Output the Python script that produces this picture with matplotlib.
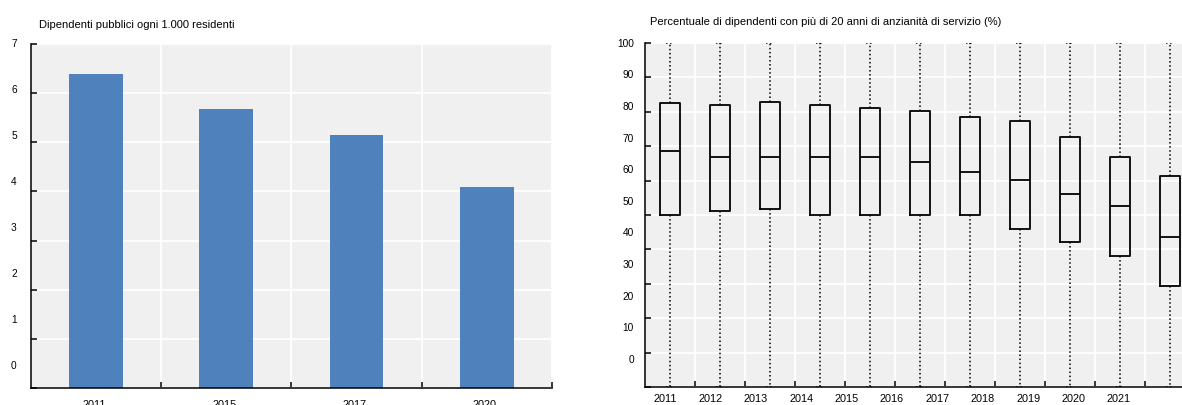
import matplotlib
matplotlib.use("Agg")
import matplotlib.pyplot as plt
import numpy as np

plt.rcParams['font.family'] = ['Liberation Sans Narrow', 'Liberation Sans', 'DejaVu Sans']

# ---- data -------------------------------------------------------------
bar_years = ['2011', '2015', '2017', '2020']
employees_per_1000 = [6.39, 5.67, 5.15, 4.08]
left_ytick_labels = ['7', '6', '5', '4', '3', '2', '1', '0']

box_years = ['2011', '2012', '2013', '2014', '2015', '2016',
             '2017', '2018', '2019', '2020', '2021']
box_q1 = [49.9, 51.2, 51.7, 49.9, 49.9, 50.0, 50.0, 46.0, 42.1, 38.1, 29.5]
box_med = [68.7, 66.9, 66.9, 66.9, 66.9, 65.5, 62.5, 60.2, 56.1, 52.6, 43.5]
box_q3 = [82.5, 82.0, 82.9, 82.0, 81.2, 80.3, 78.6, 77.3, 72.6, 66.9, 61.3]
box_min = [0] * 11
box_max = [100] * 11
right_ytick_labels = ['100', '90', '80', '70', '60', '50', '40', '30', '20', '10', '0']

title_left = 'Dipendenti pubblici ogni 1.000 residenti'
title_right = ('Percentuale di dipendenti con più di 20 anni di anzianità '
               'di servizio (%)')

# ---- layout -----------------------------------------------------------
W, H = 1182, 406
fig = plt.figure(figsize=(W / 100, H / 100), dpi=100)
fig.patch.set_facecolor('white')


def px_box(x0, x1, ytop, ybot):
    return [x0 / W, (H - ybot) / H, (x1 - x0) / W, (ybot - ytop) / H]


ax1 = fig.add_axes(px_box(30.7, 552, 45, 389))
ax2 = fig.add_axes(px_box(645, 1195, 44, 388))

BG = '#F0F0F0'
GRID = 'white'
BAR = '#4F81BD'
TICK_FS = 7.3
XT_FS = 7.8
TITLE_FS = 8.05


def style_axes(ax):
    ax.set_facecolor(BG)
    for s in ('top', 'right'):
        ax.spines[s].set_visible(False)
    for s in ('left', 'bottom'):
        ax.spines[s].set_linewidth(1.1)
        ax.spines[s].set_color('black')
    ax.set_axisbelow(True)
    ax.grid(True, which='major', axis='y', color=GRID, lw=1.3)
    ax.grid(True, which='minor', axis='x', color=GRID, lw=1.3)
    ax.tick_params(axis='y', which='major', direction='in', length=4,
                   width=1.1, labelleft=False)
    ax.tick_params(axis='x', which='major', bottom=False, labelbottom=False)
    ax.tick_params(axis='x', which='minor', direction='in', length=4,
                   width=1.1)


# ---- left panel: bars ---------------------------------------------------
x1 = np.arange(len(bar_years))
ax1.bar(x1, employees_per_1000, width=0.41, color=BAR, zorder=2)
ax1.set_xlim(-0.5, len(bar_years) - 0.5)
ax1.set_ylim(0, 7)
ax1.set_yticks(np.arange(0, 8))
ax1.set_xticks(x1)
ax1.set_xticks(np.arange(0.5, len(bar_years) + 0.5, 1.0), minor=True)
style_axes(ax1)

ax1_w = 552 - 30.7
for lab, yf in zip(left_ytick_labels, np.linspace(0.9945, 0.0593, len(left_ytick_labels))):
    ax1.text(-14 / ax1_w, yf, lab, transform=ax1.transAxes, ha='right',
             va='baseline', fontsize=TICK_FS, clip_on=False)
for xi, lab in zip(x1, bar_years):
    ax1.text(xi - 0.015, -0.055, lab, transform=ax1.get_xaxis_transform(),
             ha='center', va='baseline', fontsize=XT_FS, clip_on=False)

fig.text(39 / W, 1 - 28.3 / H, title_left, fontsize=TITLE_FS,
         ha='left', va='baseline')

# ---- right panel: box plots ----------------------------------------------
stats = [dict(label=y, whislo=lo, q1=a, med=m, q3=b, whishi=hi)
         for y, lo, a, m, b, hi in zip(box_years, box_min, box_q1, box_med,
                                       box_q3, box_max)]
x2 = np.arange(len(box_years))
ax2.bxp(stats, positions=x2, widths=0.4, showfliers=False, capwidths=0.16,
        boxprops=dict(color='black', lw=1.3),
        medianprops=dict(color='black', lw=1.3),
        whiskerprops=dict(color='black', lw=1.1, ls=':'),
        capprops=dict(color='black', lw=1.1, ls=':'),
        manage_ticks=False, zorder=3)
for art in ax2.lines:
    art.set_clip_on(True)
ax2.set_xlim(-0.5, len(box_years) - 0.5)
ax2.set_ylim(0, 100)
ax2.set_yticks(np.arange(0, 101, 10))
ax2.set_xticks(x2)
ax2.set_xticks(np.arange(0.5, len(box_years) + 0.5, 1.0), minor=True)
style_axes(ax2)

ax2_w = 1195 - 645
for lab, yf in zip(right_ytick_labels, np.linspace(0.992, 0.0733, len(right_ytick_labels))):
    ax2.text(-11 / ax2_w, yf, lab, transform=ax2.transAxes, ha='right',
             va='baseline', fontsize=TICK_FS, clip_on=False)
for k, lab in enumerate(box_years):
    xf = (20 + 45.4 * k) / ax2_w
    ax2.text(xf, -0.0407, lab, transform=ax2.transAxes, ha='center',
             va='baseline', fontsize=XT_FS, clip_on=False)

fig.text(650 / W, 1 - 25.3 / H, title_right, fontsize=TITLE_FS,
         ha='left', va='baseline')

fig.savefig('out.png', dpi=100)
